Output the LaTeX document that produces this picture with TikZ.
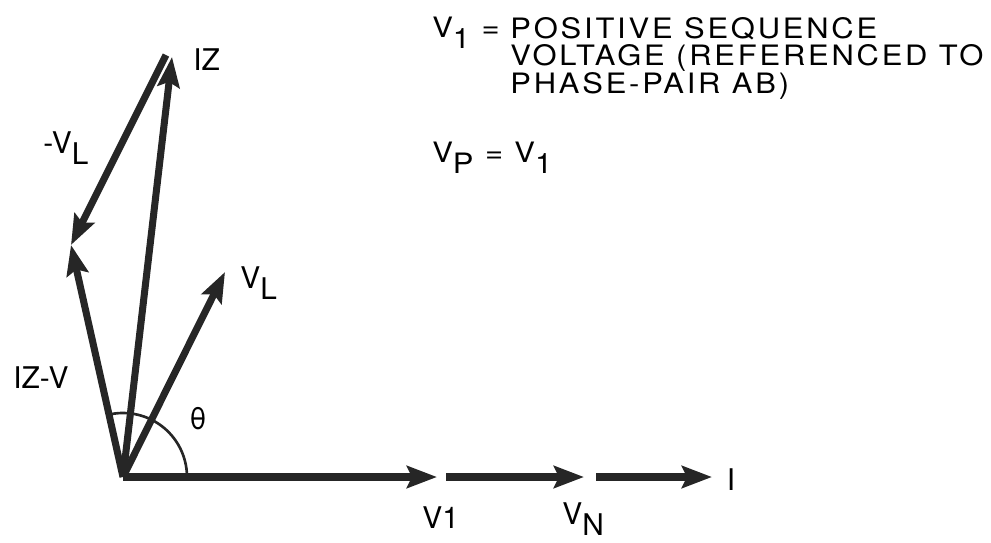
\documentclass[tikz,border=0pt]{standalone}
\usepackage{fontspec}
\setmainfont{TeX Gyre Heros}
\newfontfamily\notefont[LetterSpace=10, FakeStretch=1.10]{TeX Gyre Heros}
\usepackage{tikz}
\usetikzlibrary{arrows.meta, positioning}
\newcommand{\dn}[1]{\raisebox{-0.4em}{#1}}

\begin{document}
\begin{tikzpicture}[
        phasor/.style={line width=4pt, draw=black!85, -{Stealth[length=0.6cm, width=0.44cm, inset=0.1cm]}},
        lbl/.style={inner sep=0pt, font=\fontsize{17}{20}\selectfont},
        note/.style={inner sep=0pt, font=\fontsize{16}{15.6}\notefont}]
        \useasboundingbox (0,0) rectangle (19.82,10.84);
        % phasor end points
        \coordinate (O) at (2.46,1.30);
        \coordinate (IZ) at (3.44,9.70);
        \coordinate (IZtop) at (3.32,9.74);
        \coordinate (IZV) at (1.42,5.94);
        \coordinate (VL) at (4.50,5.40);
        \coordinate (V1) at (8.74,1.30);
        \coordinate (VNs) at (8.92,1.30);
        \coordinate (VN) at (11.68,1.30);
        \coordinate (Is) at (11.92,1.30);
        \coordinate (I) at (14.24,1.30);

        % angle theta
        \draw[line width=1.5pt, black!85] ([shift={(0:1.28)}]O) arc[start angle=0, end angle=103, radius=1.28];

        % phasors
        \draw[phasor] (O) -- (IZ);
        \draw[phasor] (IZtop) -- (IZV);
        \draw[phasor] (O) -- (IZV);
        \draw[phasor] (O) -- (VL);
        \draw[phasor] (O) -- (V1);
        \draw[phasor] (VNs) -- (VN);
        \draw[phasor] (Is) -- (I);

        % labels
        \node[lbl, anchor=base west] (lIZ) at (3.86,9.44) {IZ};
        \node[lbl, anchor=base west] (lmVL) at (0.86,7.78) {-V\dn{L}};
        \node[lbl, anchor=base west] (lVL) at (4.80,5.08) {V\dn{L}};
        \node[lbl, anchor=base west] (lIZV) at (0.26,3.08) {IZ-V};
        \node[lbl] (ltheta) at (3.96,2.46) {θ};
        \node[lbl, anchor=base west] (lV1) at (8.44,0.28) {V1};
        \node[lbl, anchor=base west] (lVN) at (11.24,0.36) {V\dn{N}};
        \node[lbl] (lI) at (14.62,1.24) {I};

        % definitions
        \node[note, anchor=base west] (v1def) at (8.64,10.10) {V\dn{1} =};
        \node[note, anchor=north west, align=left] (posdef) at (10.20,10.50) {POSITIVE SEQUENCE\\VOLTAGE (REFERENCED TO\\PHASE-PAIR AB)};
        \node[note, anchor=base west] (vpdef) at (8.64,7.60) {V\dn{P} = V\dn{1}};
\end{tikzpicture}
\end{document}
